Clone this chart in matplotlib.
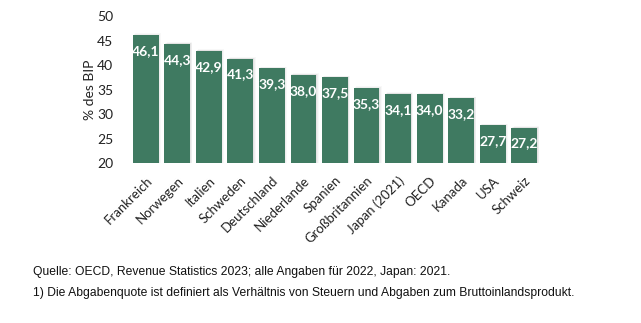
import matplotlib
matplotlib.use("Agg")
import matplotlib.pyplot as plt

categories = ["Frankreich", "Norwegen", "Italien", "Schweden", "Deutschland", "Niederlande",
              "Spanien", "Großbritannien", "Japan (2021)", "OECD", "Kanada", "USA", "Schweiz"]
values = [46.1, 44.3, 42.9, 41.3, 39.3, 38.0, 37.5, 35.3, 34.1, 34.0, 33.2, 27.7, 27.2]
yticks = [20, 25, 30, 35, 40, 45, 50]
ylabel = "% des BIP"
note1 = "Quelle: OECD, Revenue Statistics 2023; alle Angaben für 2022, Japan: 2021."
note2 = "1) Die Abgabenquote ist definiert als Verhältnis von Steuern und Abgaben zum Bruttoinlandsprodukt."

W, H = 641, 323
fig = plt.figure(figsize=(W / 100, H / 100), dpi=100)
ax = fig.add_axes([130 / W, 1 - 163 / H, 410 / W, 147 / H])

x = list(range(len(categories)))
base = 20
heights = [v - base for v in values]
bw = 0.82
# soft drop shadow
for dx, dy, a in [(0.07, 0.35, 0.05), (0.045, 0.22, 0.07), (0.02, 0.10, 0.09)]:
    ax.bar([xi + dx for xi in x], [h + dy for h in heights], bottom=base, width=bw,
           color="#777777", alpha=a, zorder=1, linewidth=0)
ax.bar(x, heights, bottom=base, width=bw, color="#3f7a61", zorder=2, linewidth=0)

for xi, v in zip(x, values):
    ax.text(xi, v - 2.0, f"{v:.1f}".replace(".", ","), ha="center", va="top",
            color="white", fontsize=10, fontweight="bold", family="Lato", zorder=3)

ax.set_xlim(-0.5, 12.5)
ax.set_ylim(20, 50)
ax.set_yticks(yticks)
ax.set_yticklabels([str(t) for t in yticks], family="Lato", fontsize=10, color="#222222")
ax.set_xticks(x)
ax.set_xticklabels(categories, rotation=45, ha="right", rotation_mode="anchor",
                   family="Lato", fontsize=9.5, color="#222222")
ax.tick_params(length=0)
ax.tick_params(axis="x", pad=8)
ax.tick_params(axis="y", pad=12)
for s in ax.spines.values():
    s.set_visible(False)
ax.set_ylabel(ylabel, family="Lato", fontsize=10, color="#222222")
ax.yaxis.set_label_coords(-0.083, 0.5)

fig.text(33 / W, 1 - 272 / H, note1, family="Liberation Sans", fontsize=8.7, va="center", color="#111111")
fig.text(33 / W, 1 - 293 / H, note2, family="Liberation Sans", fontsize=8.7, va="center", color="#111111")

fig.savefig("out.png", dpi=100)
